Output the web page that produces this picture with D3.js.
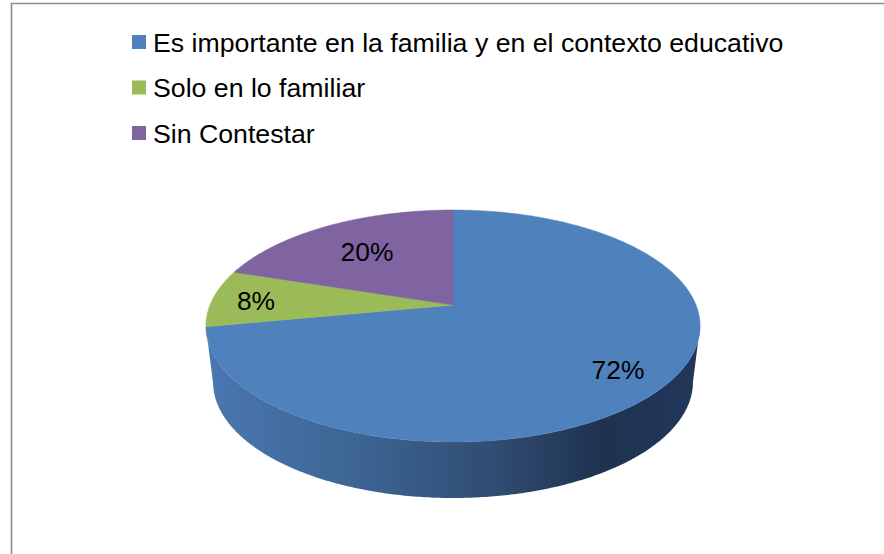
<!DOCTYPE html>
<html>
<head>
<meta charset="utf-8">
<script src="https://cdn.jsdelivr.net/npm/d3@7"></script>
<style>
  html, body { margin: 0; padding: 0; background: #fff; }
  svg { display: block; font-family: "Liberation Sans", Arial, sans-serif; }
</style>
</head>
<body>
<svg id="chart" width="884" height="554"></svg>
<script>
// Survey answers and their shares (%)
const categories = [
  "Es importante en la familia y en el contexto educativo",
  "Solo en lo familiar",
  "Sin Contestar"
];
const values = [72, 8, 20];
const labels = ["72%", "8%", "20%"];
const colors = ["#4F81BD", "#9BBB59", "#8064A2"];

(function () {
const svg = d3.select("#chart");
const W = 884, H = 554;

// Chart frame
svg.append("path")
  .attr("d", `M11.5,${H + 2} L11.5,3.5 L${W + 2},3.5`)
  .attr("fill", "none")
  .attr("stroke", "#8c8c8c")
  .attr("stroke-width", 1.6);

// Legend
const legend = svg.append("g").attr("transform", "translate(132,0)");
const rowY = d3.scalePoint().domain(d3.range(categories.length)).range([42, 133]);
categories.forEach((c, i) => {
  const g = legend.append("g").attr("transform", `translate(0,${rowY(i)})`);
  g.append("rect").attr("x", 0).attr("y", -7).attr("width", 14).attr("height", 14).attr("fill", colors[i]);
  g.append("text").attr("x", 21).attr("y", 9.5).attr("font-size", 26.7).attr("fill", "#000").text(c);
});

// Perspective projection of a tilted disc: (u, v) on the unit disc, v = -1 far edge
const cx = 453, cyTop = 305, depth = 56;
const k = 0.181, B = 112.2;
const Atop = 243, Abot = 236;
function proj(theta, r, A, cy) {
  const u = r * Math.sin(theta), v = -r * Math.cos(theta);
  const w = 1 - k * v;
  return [cx + A * u / w, cy + B * v / w];
}
const topPt = (t, r = 1) => proj(t, r, Atop, cyTop);
const botPt = (t, r = 1) => proj(t, r, Abot, cyTop + depth);

const pie = d3.pie().sort(null).value(d => d).startAngle(0).endAngle(2 * Math.PI);
const arcs = pie(values);

function arcPoints(fn, a0, a1) {
  const n = Math.max(2, Math.ceil(Math.abs(a1 - a0) / 0.01));
  return d3.range(n + 1).map(i => fn(a0 + (a1 - a0) * i / n));
}

// Side wall: visible between the two silhouette points of the disc
const sMin = Math.PI - Math.acos(k);   // right silhouette (angle measured clockwise from top)
const sMax = Math.PI + Math.acos(k);   // left silhouette

const defs = svg.append("defs");
const shade = [
  ["#4a77b0", "#3d6594", "#2f4b70", "#1f3350", "#21365a"],
  ["#8aa84f", "#7b9645", "#6a823b", "#56692f", "#596d31"],
  ["#735a92", "#654f81", "#56446e", "#463858", "#48395b"]
];
arcs.forEach((a, i) => {
  const gr = defs.append("linearGradient")
    .attr("id", "side" + i)
    .attr("gradientUnits", "userSpaceOnUse")
    .attr("x1", cx - Atop).attr("x2", cx + Atop).attr("y1", 0).attr("y2", 0);
  const stops = [0, 0.3, 0.6, 0.8, 1];
  stops.forEach((o, j) => gr.append("stop").attr("offset", o).attr("stop-color", shade[i][j]));
});

const line = d3.line();
const sides = svg.append("g");
arcs.forEach((a, i) => {
  const a0 = Math.max(a.startAngle, sMin), a1 = Math.min(a.endAngle, sMax);
  if (a1 <= a0) return;
  const pts = arcPoints(topPt, a0, a1).concat(arcPoints(botPt, a1, a0));
  sides.append("path").attr("d", line(pts) + "Z").attr("fill", `url(#side${i})`);
});

// Top face slices
const faces = svg.append("g");
arcs.forEach((a, i) => {
  const pts = [topPt(0, 0)].concat(arcPoints(topPt, a.startAngle, a.endAngle));
  faces.append("path").attr("d", line(pts) + "Z").attr("fill", colors[i])
    .attr("stroke", colors[i]).attr("stroke-width", 0.5);
});

// Value labels, placed along each slice's bisector
const labelR = [0.8, 0.82, 0.66];
arcs.forEach((a, i) => {
  const mid = (a.startAngle + a.endAngle) / 2;
  const p = topPt(mid, labelR[i]);
  svg.append("text")
    .attr("x", p[0]).attr("y", p[1])
    .attr("dy", "0.4em")
    .attr("text-anchor", "middle")
    .attr("font-size", 26.4)
    .attr("fill", "#000")
    .text(labels[i]);
});
})();
</script>
</body>
</html>
